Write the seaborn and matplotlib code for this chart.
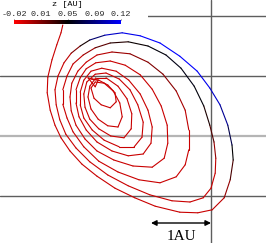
import numpy as np
import pandas as pd
import matplotlib
matplotlib.use("Agg")
import matplotlib.pyplot as plt
import seaborn as sns
from matplotlib.colors import LinearSegmentedColormap, Normalize
from matplotlib.cm import ScalarMappable
from matplotlib.patches import Rectangle

sns.set_style("white")

# ---- trajectory data (AU), loop by loop ----
x_loop1 = [-2.47, -2.50, -2.57, -2.65, -2.72, -2.73, -2.68, -2.60, -2.50, -2.35, -2.15, -1.90,
           -1.60, -1.27, -0.93, -0.52, -0.22, 0.02, 0.22, 0.32, 0.37, 0.35, 0.28, 0.15,
           -0.02, -0.23, -0.52, -0.85, -1.18, -1.48, -1.77, -2.02, -2.18, -2.33]
y_loop1 = [1.85, 1.72, 1.52, 1.27, 0.98, 0.72, 0.43, 0.18, -0.03, -0.25, -0.47, -0.67,
           -0.87, -1.03, -1.17, -1.27, -1.28, -1.23, -1.03, -0.73, -0.40, -0.15, 0.18, 0.52,
           0.80, 1.08, 1.33, 1.55, 1.67, 1.72, 1.68, 1.60, 1.50, 1.38]
z_loop1 = [-0.005, -0.005, -0.005, -0.005, -0.005, -0.005, -0.005, -0.005, -0.005, -0.005, -0.005, -0.005,
           -0.005, -0.005, -0.005, -0.005, -0.005, -0.005, 0.0, 0.02, 0.04, 0.06, 0.08, 0.10,
           0.11, 0.12, 0.12, 0.12, 0.12, 0.11, 0.10, 0.06, 0.03, 0.0]

x_loop2 = [-2.45, -2.55, -2.60, -2.58, -2.52, -2.42, -2.25, -2.02, -1.72, -1.38, -1.02, -0.65,
           -0.35, -0.13, 0.00, 0.07, 0.08, 0.05, -0.02, -0.12, -0.28, -0.50, -0.75, -1.05,
           -1.38, -1.68, -1.93, -2.13]
y_loop2 = [1.22, 1.00, 0.77, 0.52, 0.27, 0.03, -0.20, -0.43, -0.65, -0.83, -0.98, -1.08,
           -1.10, -1.03, -0.87, -0.62, -0.37, -0.10, 0.18, 0.50, 0.83, 1.13, 1.35, 1.50,
           1.57, 1.55, 1.47, 1.35]
z_loop2 = [-0.005, -0.005, -0.005, -0.005, -0.005, -0.005, -0.005, -0.005, -0.005, -0.005, -0.005, -0.005,
           -0.005, -0.005, -0.005, -0.005, 0.0, 0.02, 0.035, 0.05, 0.055, 0.055, 0.055, 0.05,
           0.045, 0.035, 0.015, 0.0]

x_loop3 = [-2.30, -2.40, -2.47, -2.47, -2.40, -2.30, -2.12, -1.87, -1.55, -1.20, -0.85, -0.58,
           -0.43, -0.37, -0.37, -0.43, -0.58, -0.80, -1.05, -1.35, -1.65, -1.90, -2.08]
y_loop3 = [1.20, 1.00, 0.77, 0.53, 0.30, 0.07, -0.18, -0.42, -0.60, -0.73, -0.78, -0.68,
           -0.48, -0.23, 0.10, 0.43, 0.75, 1.03, 1.23, 1.37, 1.40, 1.35, 1.23]
z_loop3 = [-0.005, -0.005, -0.005, -0.005, -0.005, -0.005, -0.005, -0.005, -0.005, -0.005, -0.005, -0.005,
           -0.005, -0.005, -0.005, 0.0, 0.01, 0.015, 0.015, 0.01, 0.005, -0.005, -0.005]

x_loop4 = [-2.22, -2.32, -2.35, -2.33, -2.25, -2.10, -1.90, -1.62, -1.30, -0.98, -0.78, -0.72,
           -0.73, -0.83, -0.98, -1.18, -1.43, -1.68, -1.92, -2.08]
y_loop4 = [1.08, 0.88, 0.65, 0.42, 0.18, -0.05, -0.25, -0.40, -0.50, -0.52, -0.37, -0.12,
           0.18, 0.50, 0.78, 1.02, 1.18, 1.25, 1.22, 1.12]
z_loop4 = [-0.005] * 20

x_loop5 = [-2.18, -2.25, -2.25, -2.20, -2.08, -1.90, -1.65, -1.38, -1.13, -1.00, -0.98, -1.05,
           -1.18, -1.37, -1.58, -1.82, -2.00]
y_loop5 = [0.97, 0.77, 0.55, 0.32, 0.10, -0.10, -0.25, -0.33, -0.30, -0.12, 0.15, 0.43,
           0.70, 0.93, 1.08, 1.13, 1.08]
z_loop5 = [-0.005] * 17

x_loop6 = [-2.12, -2.18, -2.18, -2.12, -1.98, -1.78, -1.53, -1.28, -1.15, -1.13, -1.22, -1.35,
           -1.53, -1.75, -1.93]
y_loop6 = [0.93, 0.73, 0.52, 0.30, 0.10, -0.07, -0.18, -0.18, -0.02, 0.23, 0.52, 0.77,
           0.95, 1.05, 1.03]
z_loop6 = [-0.005] * 15

x_loop7 = [-2.07, -2.12, -2.10, -2.02, -1.87, -1.67, -1.45, -1.33, -1.32, -1.40, -1.55, -1.75, -1.92]
y_loop7 = [0.90, 0.70, 0.48, 0.28, 0.12, 0.00, -0.03, 0.12, 0.37, 0.62, 0.83, 0.97, 0.97]
z_loop7 = [-0.005] * 13

x_loop8 = [-2.02, -2.05, -2.00, -1.88, -1.72, -1.55, -1.48, -1.52, -1.63, -1.78, -1.93]
y_loop8 = [0.83, 0.65, 0.45, 0.28, 0.17, 0.15, 0.32, 0.55, 0.75, 0.88, 0.90]
z_loop8 = [-0.005] * 11

x_loop9 = [-2.00, -1.95, -1.83, -1.68, -1.58, -1.60, -1.72, -1.87, -1.98, -2.05, -1.93, -1.88, -2.00]
y_loop9 = [0.80, 0.63, 0.52, 0.47, 0.57, 0.72, 0.85, 0.93, 0.95, 0.97, 0.82, 0.93, 0.95]
z_loop9 = [-0.005] * 13

cbar_ticks = [-0.02, 0.015, 0.05, 0.085, 0.12]
cbar_labels = ["-0.02", "0.01", "0.05", "0.09", "0.12"]
cbar_title = "z [AU]"
grid_y_dark = [2, 1, -1]
grid_y_light = [0]
grid_x = [0]
scale_label = "1AU"
scale_len = 1.0

# ---- assemble ----
x = np.concatenate([x_loop1, x_loop2, x_loop3, x_loop4, x_loop5, x_loop6, x_loop7, x_loop8, x_loop9])
y = np.concatenate([y_loop1, y_loop2, y_loop3, y_loop4, y_loop5, y_loop6, y_loop7, y_loop8, y_loop9])
z = np.concatenate([z_loop1, z_loop2, z_loop3, z_loop4, z_loop5, z_loop6, z_loop7, z_loop8, z_loop9])

rows = []
for i in range(len(x) - 1):
    zc = 0.5 * (z[i] + z[i + 1])
    rows.append(dict(seg=i, x=x[i], y=y[i], z=zc))
    rows.append(dict(seg=i, x=x[i + 1], y=y[i + 1], z=zc))
df = pd.DataFrame(rows)

cmap = LinearSegmentedColormap.from_list("rkb", [(1, 0, 0), (0, 0, 0), (0, 0, 1)])
norm = Normalize(vmin=-0.02, vmax=0.12)

W, H = 266, 243
fig = plt.figure(figsize=(W / 100, H / 100), dpi=100)
ax = fig.add_axes([0, 0, 1, 1])
ax.axis("off")

for g in grid_y_dark:
    ax.axhline(g, color="#5e5e5e", lw=1.0, zorder=1)
for g in grid_y_light:
    ax.axhline(g, color="#b5b5b5", lw=1.6, zorder=1)
for g in grid_x:
    ax.axvline(g, color="#5e5e5e", lw=1.0, zorder=1)

sns.lineplot(data=df, x="x", y="y", units="seg", hue="z", palette=cmap, hue_norm=norm,
             estimator=None, sort=False, legend=False, lw=0.8, ax=ax, zorder=2,
             solid_capstyle="round")
ax.set_xlim(-211 / 60, 55 / 60)
ax.set_ylim(-107 / 60, 136 / 60)

# scale bar
ax.annotate("", xy=(0, -1.45), xytext=(-scale_len, -1.45),
            arrowprops=dict(arrowstyle="<|-|>", color="black", lw=1.0,
                            mutation_scale=8, shrinkA=0, shrinkB=0), zorder=3)
ax.text(-scale_len / 2, -1.67, scale_label, ha="center", va="center",
        fontsize=11, family=["Liberation Serif", "DejaVu Serif"], color="black")

# white box behind colorbar
fig.add_artist(Rectangle((0, 1 - 24 / H), 148 / W, 24 / H, transform=fig.transFigure,
                         facecolor="white", edgecolor="none", zorder=5))

cax = fig.add_axes([14 / W, 1 - 24 / H, 107 / W, 4 / H])
cax.set_zorder(6)
cb = fig.colorbar(ScalarMappable(norm=norm, cmap=cmap), cax=cax, orientation="horizontal")
cb.outline.set_visible(False)
cax.xaxis.set_ticks_position("top")
cb.set_ticks(cbar_ticks)
mono = ["Liberation Mono", "DejaVu Sans Mono"]
cax.set_xticklabels(cbar_labels, family=mono, fontsize=6.1)
cax.tick_params(axis="x", length=1.0, width=0.5, pad=0.8)
t = fig.text(67.5 / W, 1 - 5 / H, cbar_title, family=mono, fontsize=6.1,
             ha="center", va="center", color="black")
t.set_zorder(7)

fig.savefig("out.png", dpi=100)
